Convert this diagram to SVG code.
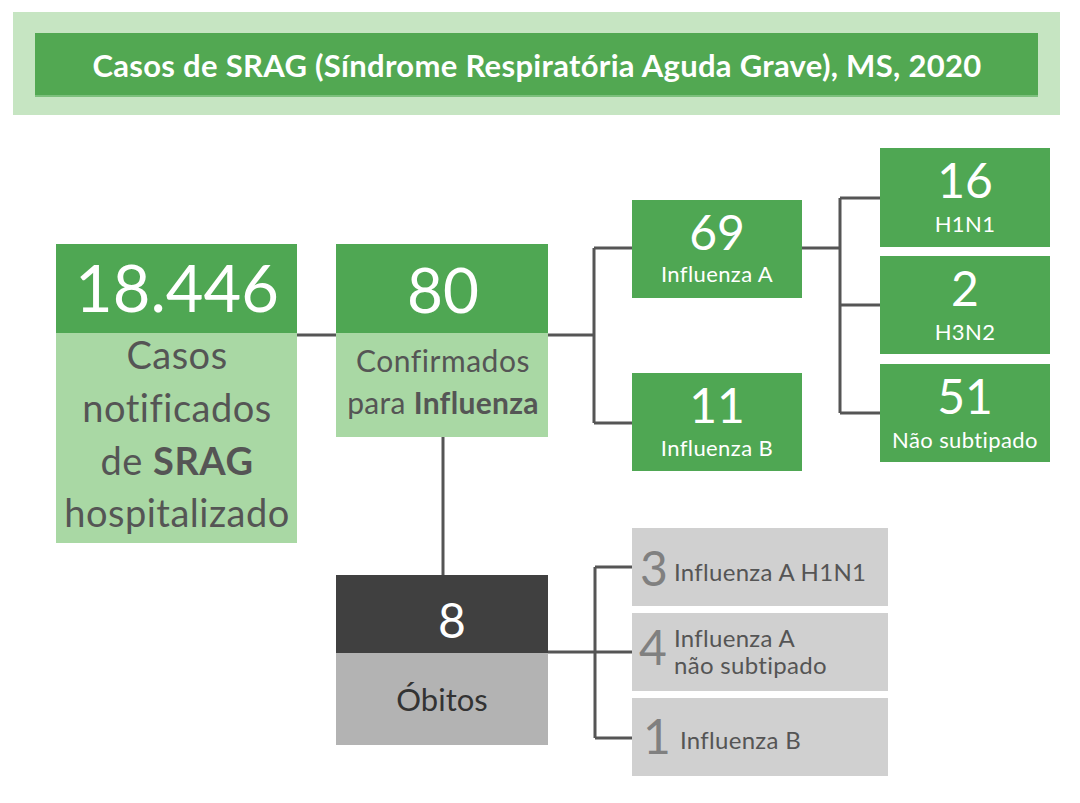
<svg xmlns="http://www.w3.org/2000/svg" width="1080" height="803" viewBox="0 0 1080 803">
<style>
text{font-family:Lato,"Open Sans","Liberation Sans",sans-serif}
.dk{fill:#4fa753}
.lt{fill:#a9d8a4}
.gr{fill:#d0d0d0}
.w{fill:#ffffff;text-anchor:middle}
.t{fill:#555555;text-anchor:middle}
.n{fill:#808080}
.s{fill:#555555;font-size:24px;letter-spacing:0.3px}
.l{font-size:22px;letter-spacing:0.4px}
.c{fill:none;stroke:#555555;stroke-width:3}
</style>
<rect width="1080" height="803" fill="#ffffff"/>
<g id="title">
<rect x="13" y="12" width="1047" height="103" fill="#c6e5c2"/>
<rect x="35" y="33" width="1003" height="64" fill="#52a852"/>
<rect x="35" y="95" width="1003" height="2" fill="#7cc07c"/>
<text x="537" y="77" class="w" font-size="31" font-weight="bold" letter-spacing="0.3">Casos de SRAG (Síndrome Respiratória Aguda Grave), MS, 2020</text>
</g>
<g id="connectors">
<path class="c" d="M297 335H336"/>
<path class="c" d="M548 335H594M594 248V423M594 248H632M594 423H632"/>
<path class="c" d="M802 248H840M840 198V413M840 198H880M840 305H880M840 413H880"/>
<path class="c" d="M443 437V575"/>
<path class="c" d="M548 652H632M595 567V738M595 567H632M595 738H632"/>
</g>
<g id="node-srag">
<rect x="56" y="244" width="241" height="89" class="dk"/>
<rect x="56" y="333" width="241" height="210" class="lt"/>
<text x="177" y="312" class="w" font-size="65">18.446</text>
<text x="177" y="369" class="t" font-size="38" letter-spacing="0.5">Casos</text>
<text x="177" y="422" class="t" font-size="38" letter-spacing="0.5">notificados</text>
<text x="177" y="475" class="t" font-size="38" letter-spacing="0.5">de <tspan font-weight="bold">SRAG</tspan></text>
<text x="177" y="527" class="t" font-size="38" letter-spacing="0.5">hospitalizado</text>
</g>
<g id="node-confirmados">
<rect x="336" y="244" width="212" height="89" class="dk"/>
<rect x="336" y="333" width="212" height="104" class="lt"/>
<text x="443" y="313" class="w" font-size="62">80</text>
<text x="443" y="372" class="t" font-size="30" letter-spacing="0.5">Confirmados</text>
<text x="443" y="414" class="t" font-size="30" letter-spacing="0.3">para <tspan font-weight="bold">Influenza</tspan></text>
</g>
<g id="node-infA">
<rect x="632" y="200" width="170" height="98" class="dk"/>
<text x="717" y="250" class="w" font-size="48">69</text>
<text x="717" y="282" class="w l">Influenza A</text>
</g>
<g id="node-infB">
<rect x="632" y="373" width="170" height="98" class="dk"/>
<text x="717" y="423" class="w" font-size="48">11</text>
<text x="717" y="456" class="w l">Influenza B</text>
</g>
<g id="node-h1n1">
<rect x="880" y="148" width="170" height="99" class="dk"/>
<text x="965" y="198" class="w" font-size="48">16</text>
<text x="965" y="232" class="w l">H1N1</text>
</g>
<g id="node-h3n2">
<rect x="880" y="256" width="170" height="98" class="dk"/>
<text x="965" y="306" class="w" font-size="48">2</text>
<text x="965" y="340" class="w l">H3N2</text>
</g>
<g id="node-nsub">
<rect x="880" y="364" width="170" height="98" class="dk"/>
<text x="965" y="414" class="w" font-size="48">51</text>
<text x="965" y="448" class="w l">Não subtipado</text>
</g>
<g id="node-obitos">
<rect x="336" y="575" width="212" height="78" fill="#404040"/>
<rect x="336" y="653" width="212" height="92" fill="#b3b3b3"/>
<text x="452" y="638" class="w" font-size="48">8</text>
<text x="442" y="711" font-size="31" fill="#333333" text-anchor="middle">Óbitos</text>
</g>
<g id="node-d1">
<rect x="632" y="528" width="256" height="78" class="gr"/>
<text x="640" y="586" class="n" font-size="48">3</text>
<text x="674" y="581" class="s">Influenza A H1N1</text>
</g>
<g id="node-d2">
<rect x="632" y="613" width="256" height="78" class="gr"/>
<text x="639" y="665" class="n" font-size="48">4</text>
<text x="674" y="647" class="s">Influenza A</text>
<text x="674" y="674" class="s">não subtipado</text>
</g>
<g id="node-d3">
<rect x="632" y="698" width="256" height="78" class="gr"/>
<text x="643" y="754" class="n" font-size="48">1</text>
<text x="680" y="749" class="s">Influenza B</text>
</g>
</svg>
